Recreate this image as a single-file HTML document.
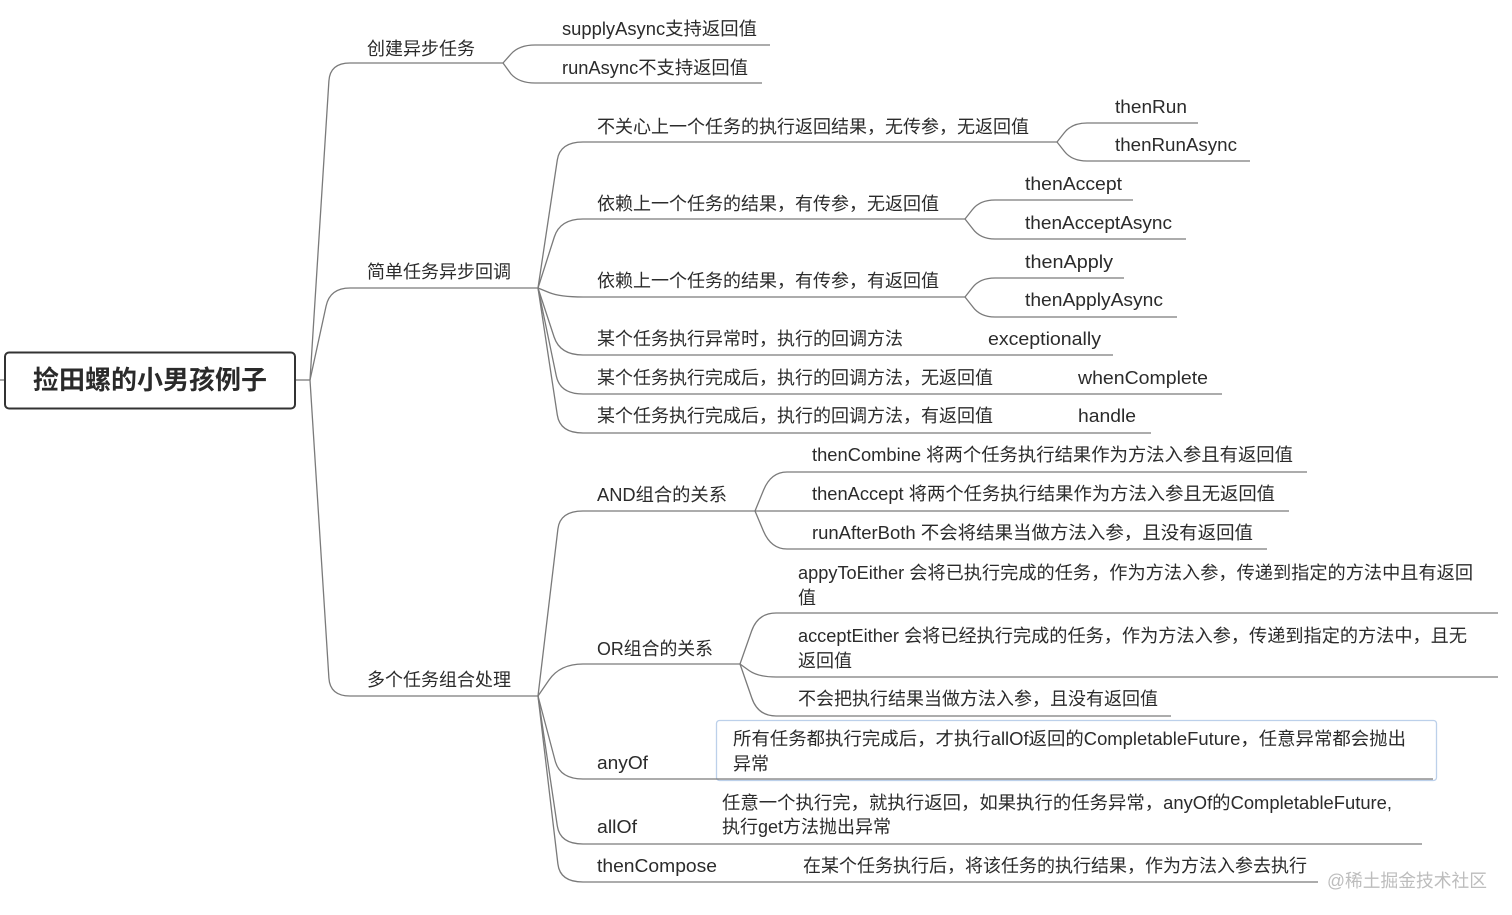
<!DOCTYPE html>
<html>
<head>
<meta charset="utf-8">
<style>
  html, body { margin:0; padding:0; background:#ffffff; }
  body { width:1512px; height:915px; overflow:hidden; }
  svg { display:block; }
  text { font-family: "Liberation Sans", "Noto Sans CJK SC", sans-serif; font-size:18px; fill:#2b2b2b; }
  .root { font-size:26px; font-weight:bold; fill:#2a2a2a; }
  .wm { fill:#bdbdbd; font-size:18px; }
</style>
</head>
<body>
<svg width="1512" height="915" viewBox="0 0 1512 915" xmlns="http://www.w3.org/2000/svg">
  <!-- anyOf box -->
  <rect x="716.5" y="720.5" width="720" height="60" rx="3" ry="3" fill="#ffffff" stroke="#bcd0ea" stroke-width="1.3"/>

  <g fill="none" stroke="#7a7a7a" stroke-width="1.3">
    <!-- root ticks -->
    <path d="M0 380 L4 380"/>
    <path d="M295 380 L310 380"/>
    <!-- main branches -->
    <path d="M310 380 L328.9 81 Q330 63 350 63 L503 63"/>
    <path d="M310 380 L326.1 306 Q330 288 350 288 L538 288"/>
    <path d="M310 380 L328.9 678 Q330 696 350 696 L538 696"/>

    <!-- branch 1 children -->
    <path d="M503 63 L511 54 Q519 45 535 45 L770 45"/>
    <path d="M503 63 L511 74 Q519 83 535 83 L762 83"/>

    <!-- branch 2 children -->
    <path d="M538 288 L557.3 160 Q560 142 583 142 L1057 142"/>
    <path d="M538 288 L554.3 237 Q560 219 583 219 L965 219"/>
    <path d="M538 288 L549 292.5 Q560 297 583 297 L965 297"/>
    <path d="M538 288 L554.1 337 Q560 355 583 355 L1113 355"/>
    <path d="M538 288 L556.3 376 Q560 394 583 394 L1222 394"/>
    <path d="M538 288 L557.3 415 Q560 433 583 433 L1151 433"/>

    <!-- thenRun fork -->
    <path d="M1057 142 L1064.5 132.5 Q1072 123 1087 123 L1198 123"/>
    <path d="M1057 142 L1064.5 151.5 Q1072 161 1087 161 L1250 161"/>
    <!-- thenAccept fork -->
    <path d="M965 219 L972.5 209.5 Q980 200 995 200 L1133 200"/>
    <path d="M965 219 L972.5 228.5 Q980 239 995 239 L1186 239"/>
    <!-- thenApply fork -->
    <path d="M965 297 L972.5 287.5 Q980 278 995 278 L1124 278"/>
    <path d="M965 297 L972.5 306.5 Q980 317 995 317 L1177 317"/>

    <!-- branch 3 children -->
    <path d="M538 696 L557.9 529 Q560 511 583 511 L755 511"/>
    <path d="M538 696 L549 680 Q560 664 583 664 L740 664"/>
    <path d="M538 696 L555.2 761 Q560 779 583 779 L1433 779"/>
    <path d="M538 696 L557.3 826 Q560 844 583 844 L1422 844"/>
    <path d="M538 696 L557.9 864 Q560 882 583 882 L1318 882"/>

    <!-- AND fork -->
    <path d="M755 511 L763.6 490 Q771 472 787 472 L1307 472"/>
    <path d="M755 511 L1289 511"/>
    <path d="M755 511 L763.4 531 Q771 549 787 549 L1267 549"/>

    <!-- OR fork -->
    <path d="M740 664 L751.6 631 Q758 613 776 613 L1498 613"/>
    <path d="M740 664 L749 670.5 Q758 677 776 677 L1498 677"/>
    <path d="M740 664 L751.8 698 Q758 716 776 716 L1171 716"/>
  </g>

  <!-- root box -->
  <rect x="5" y="352.5" width="290" height="56" rx="4" ry="4" fill="#ffffff" stroke="#333333" stroke-width="2"/>
  <text class="root" x="150" y="389" text-anchor="middle">捡田螺的小男孩例子</text>

  <!-- branch 1 -->
  <text x="367" y="55">创建异步任务</text>
  <text x="562" y="35" textLength="195" lengthAdjust="spacingAndGlyphs">supplyAsync支持返回值</text>
  <text x="562" y="74" textLength="186" lengthAdjust="spacingAndGlyphs">runAsync不支持返回值</text>

  <!-- branch 2 -->
  <text x="367" y="278">简单任务异步回调</text>
  <text x="597" y="133">不关心上一个任务的执行返回结果，无传参，无返回值</text>
  <text x="1115" y="113" textLength="72" lengthAdjust="spacingAndGlyphs">thenRun</text>
  <text x="1115" y="151" textLength="122" lengthAdjust="spacingAndGlyphs">thenRunAsync</text>
  <text x="597" y="210">依赖上一个任务的结果，有传参，无返回值</text>
  <text x="1025" y="190" textLength="97" lengthAdjust="spacingAndGlyphs">thenAccept</text>
  <text x="1025" y="229" textLength="147" lengthAdjust="spacingAndGlyphs">thenAcceptAsync</text>
  <text x="597" y="287">依赖上一个任务的结果，有传参，有返回值</text>
  <text x="1025" y="268" textLength="88" lengthAdjust="spacingAndGlyphs">thenApply</text>
  <text x="1025" y="306" textLength="138" lengthAdjust="spacingAndGlyphs">thenApplyAsync</text>
  <text x="597" y="345">某个任务执行异常时，执行的回调方法</text>
  <text x="988" y="345" textLength="113" lengthAdjust="spacingAndGlyphs">exceptionally</text>
  <text x="597" y="384">某个任务执行完成后，执行的回调方法，无返回值</text>
  <text x="1078" y="384" textLength="130" lengthAdjust="spacingAndGlyphs">whenComplete</text>
  <text x="597" y="422">某个任务执行完成后，执行的回调方法，有返回值</text>
  <text x="1078" y="422" textLength="58" lengthAdjust="spacingAndGlyphs">handle</text>

  <!-- branch 3 -->
  <text x="367" y="686">多个任务组合处理</text>
  <text x="597" y="501" textLength="130" lengthAdjust="spacingAndGlyphs">AND组合的关系</text>
  <text x="812" y="461" textLength="481" lengthAdjust="spacingAndGlyphs">thenCombine 将两个任务执行结果作为方法入参且有返回值</text>
  <text x="812" y="500" textLength="463" lengthAdjust="spacingAndGlyphs">thenAccept 将两个任务执行结果作为方法入参且无返回值</text>
  <text x="812" y="539" textLength="441" lengthAdjust="spacingAndGlyphs">runAfterBoth 不会将结果当做方法入参，且没有返回值</text>

  <text x="597" y="655" textLength="116" lengthAdjust="spacingAndGlyphs">OR组合的关系</text>
  <text x="798" y="579" textLength="675" lengthAdjust="spacingAndGlyphs">appyToEither 会将已执行完成的任务，作为方法入参，传递到指定的方法中且有返回</text>
  <text x="798" y="604">值</text>
  <text x="798" y="642" textLength="669" lengthAdjust="spacingAndGlyphs">acceptEither 会将已经执行完成的任务，作为方法入参，传递到指定的方法中，且无</text>
  <text x="798" y="667">返回值</text>
  <text x="798" y="705" textLength="360" lengthAdjust="spacingAndGlyphs">不会把执行结果当做方法入参，且没有返回值</text>

  <text x="597" y="769" textLength="51" lengthAdjust="spacingAndGlyphs">anyOf</text>
  <text x="733" y="745" textLength="673" lengthAdjust="spacingAndGlyphs">所有任务都执行完成后，才执行allOf返回的CompletableFuture，任意异常都会抛出</text>
  <text x="733" y="770">异常</text>

  <text x="597" y="833" textLength="40" lengthAdjust="spacingAndGlyphs">allOf</text>
  <text x="722" y="809" textLength="670" lengthAdjust="spacingAndGlyphs">任意一个执行完，就执行返回，如果执行的任务异常，anyOf的CompletableFuture,</text>
  <text x="722" y="833">执行get方法抛出异常</text>

  <text x="597" y="872" textLength="120" lengthAdjust="spacingAndGlyphs">thenCompose</text>
  <text x="803" y="872" textLength="504" lengthAdjust="spacingAndGlyphs">在某个任务执行后，将该任务的执行结果，作为方法入参去执行</text>

  <!-- watermark -->
  <text class="wm" x="1327" y="887" textLength="160" lengthAdjust="spacingAndGlyphs">@稀土掘金技术社区</text>
</svg>
</body>
</html>
